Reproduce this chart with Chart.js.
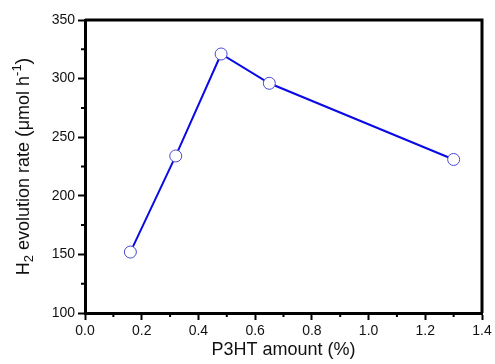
<!DOCTYPE html>
<html>
<head>
<meta charset="utf-8">
<script src="https://cdn.jsdelivr.net/npm/chart.js@4/dist/chart.umd.min.js"></script>
<style>
  html, body { margin: 0; padding: 0; background: #fff; }
</style>
</head>
<body>
<canvas id="chart" width="495" height="364"></canvas>
<script>
// Data
const p3htAmount = [0.16, 0.32, 0.48, 0.65, 1.30];
const h2Rate = [152, 234, 321, 296, 231];

const xTicks = [0.0, 0.2, 0.4, 0.6, 0.8, 1.0, 1.2, 1.4];
const yTicks = [100, 150, 200, 250, 300, 350];
const xMinor = [0.1, 0.3, 0.5, 0.7, 0.9, 1.1, 1.3];
const yMinor = [125, 175, 225, 275, 325];

const tickFont = { family: '"Liberation Sans", Arial, sans-serif', size: 14 };
const narrow = '"Liberation Sans Narrow", "Arial Narrow", "Liberation Sans", sans-serif';
const titleFont = { family: narrow, size: 18 };

// frame (top/right), minor ticks and the y title with sub/superscripts
const framePlugin = {
  id: 'frame',
  afterDraw(chart) {
    const { ctx, chartArea: a, scales } = chart;
    ctx.save();
    ctx.strokeStyle = '#000';
    ctx.lineWidth = 3;
    ctx.beginPath();
    ctx.moveTo(a.left, a.top);
    ctx.lineTo(a.right, a.top);
    ctx.lineTo(a.right, a.bottom);
    ctx.stroke();
    ctx.lineWidth = 2;
    ctx.beginPath();
    xMinor.forEach(v => {
      const px = scales.x.getPixelForValue(v);
      ctx.moveTo(px, a.bottom);
      ctx.lineTo(px, a.bottom + 4);
    });
    yMinor.forEach(v => {
      const py = scales.y.getPixelForValue(v);
      ctx.moveTo(a.left, py);
      ctx.lineTo(a.left - 4, py);
    });
    ctx.stroke();

    // y axis title
    const parts = [
      { t: 'H', s: 18, dy: 0 },
      { t: '2', s: 13, dy: 5 },
      { t: ' evolution rate ', s: 18, dy: 0 },
      { t: '(', s: 20, dy: 0 },
      { t: '\u03bcmol h', s: 18, dy: 0 },
      { t: '-1', s: 13, dy: -7 },
      { t: ')', s: 20, dy: 0 }
    ];
    let total = 0;
    parts.forEach(p => {
      ctx.font = p.s + 'px ' + narrow;
      p.w = ctx.measureText(p.t).width;
      total += p.w;
    });
    ctx.translate(24, (a.top + a.bottom) / 2);
    ctx.rotate(-Math.PI / 2);
    ctx.fillStyle = '#111';
    ctx.textBaseline = 'middle';
    ctx.textAlign = 'left';
    let x = -total / 2;
    parts.forEach(p => {
      ctx.font = p.s + 'px ' + narrow;
      ctx.fillText(p.t, x, p.dy);
      x += p.w;
    });
    ctx.restore();
  }
};

new Chart(document.getElementById('chart'), {
  type: 'scatter',
  data: {
    datasets: [{
      data: p3htAmount.map((x, i) => ({ x: x, y: h2Rate[i] })),
      showLine: true,
      borderColor: '#0a0ae6',
      borderWidth: 2,
      pointRadius: 6,
      pointBorderWidth: 1,
      pointBorderColor: '#4a4ad0',
      pointBackgroundColor: '#ffffff',
      tension: 0
    }]
  },
  options: {
    responsive: false,
    animation: false,
    layout: { padding: { top: 20, right: 13, left: 0, bottom: 3 } },
    plugins: { legend: { display: false }, tooltip: { enabled: false } },
    scales: {
      x: {
        type: 'linear',
        min: 0, max: 1.4,
        afterBuildTicks: s => { s.ticks = xTicks.map(v => ({ value: v })); },
        afterFit: s => { s.height = 48; },
        ticks: {
          color: '#111',
          font: tickFont,
          padding: 3,
          callback: v => v.toFixed(1)
        },
        grid: { drawOnChartArea: false, drawTicks: true, tickLength: 7, tickWidth: 2, tickColor: '#000' },
        border: { display: true, color: '#000', width: 3 },
        title: {
          display: true,
          text: 'P3HT amount (%)',
          color: '#111',
          font: titleFont,
          padding: { top: 0, bottom: 0 }
        }
      },
      y: {
        type: 'linear',
        min: 100, max: 350,
        afterBuildTicks: s => { s.ticks = yTicks.map(v => ({ value: v })); },
        afterFit: s => { s.width = 85; },
        ticks: {
          color: '#111',
          font: tickFont,
          padding: 3
        },
        grid: { drawOnChartArea: false, drawTicks: true, tickLength: 7, tickWidth: 2, tickColor: '#000' },
        border: { display: true, color: '#000', width: 3 },
        title: { display: false }
      }
    }
  },
  plugins: [framePlugin]
});
</script>
</body>
</html>
